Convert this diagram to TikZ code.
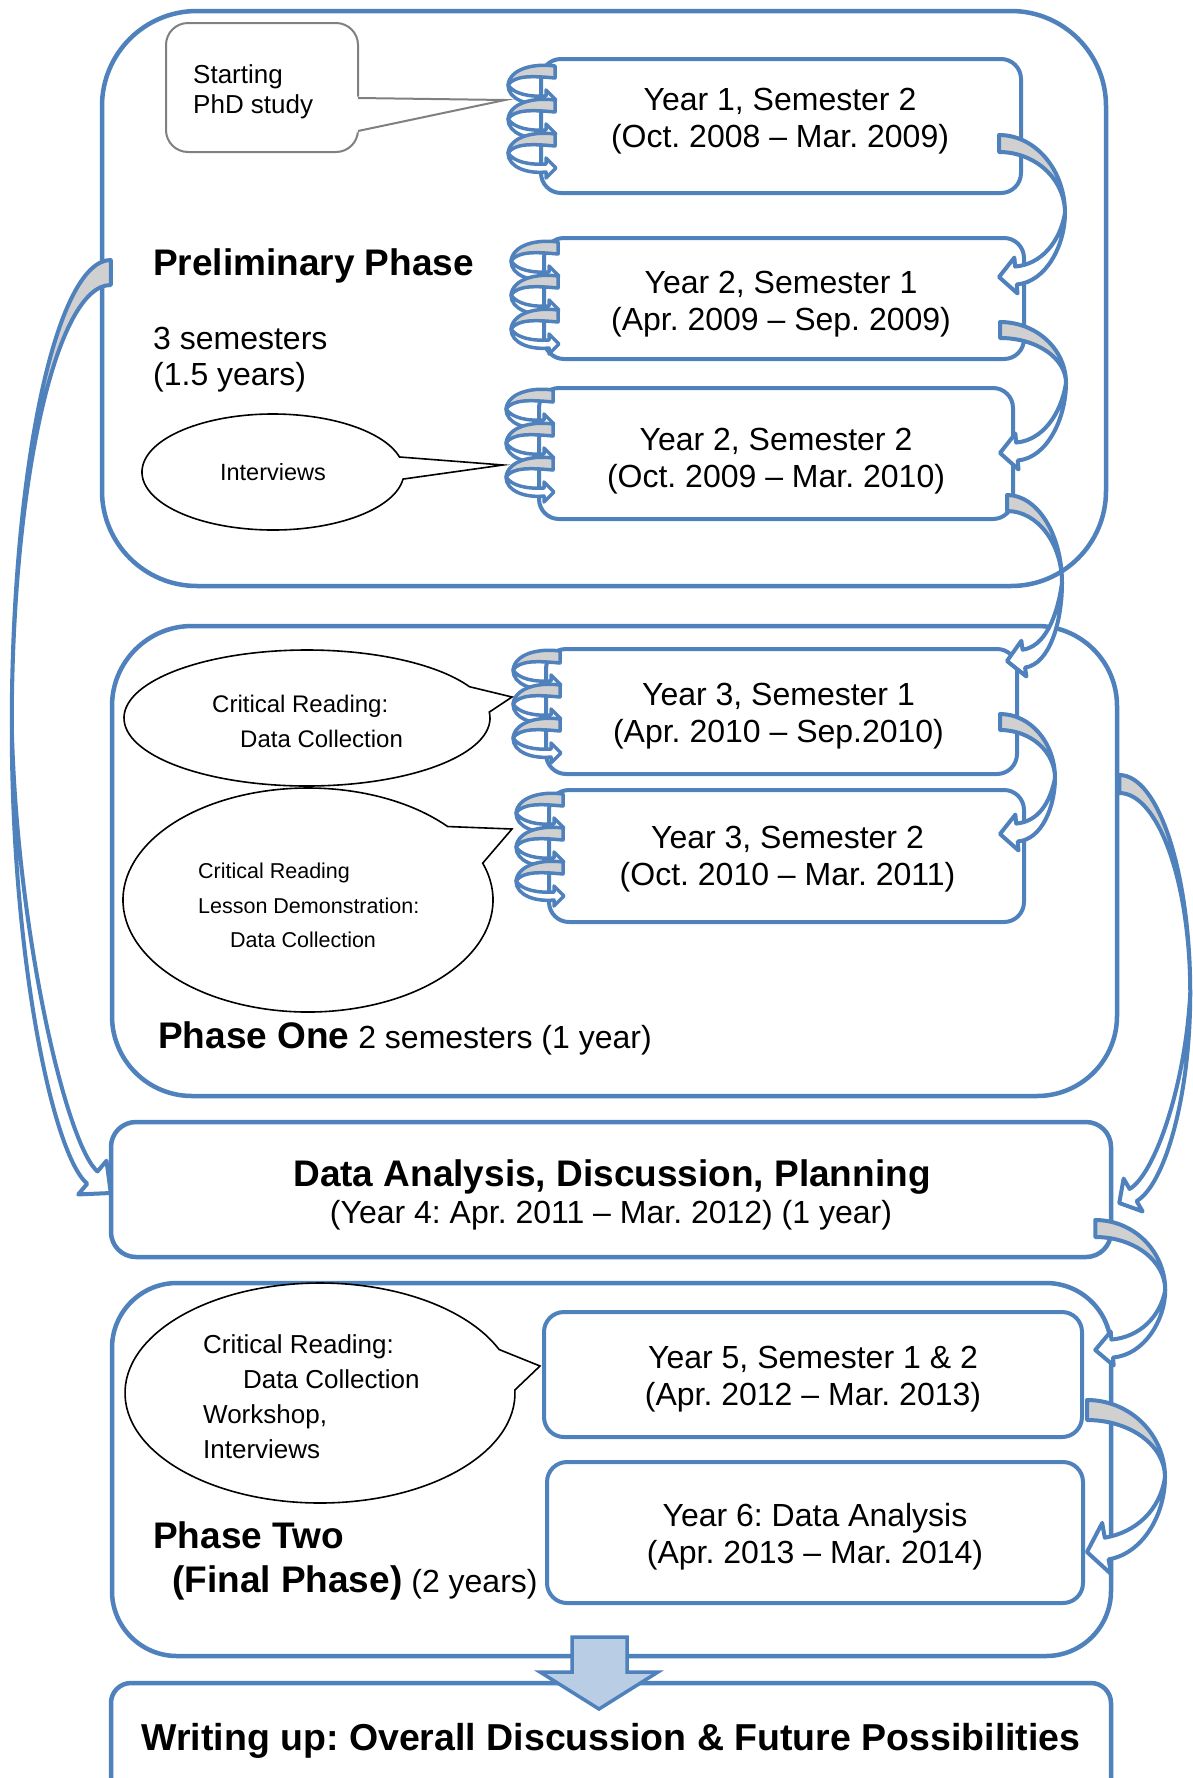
\documentclass[tikz,border=0pt]{standalone}
\usepackage{fontspec}
\setmainfont{Liberation Sans}
\usetikzlibrary{calc}

\definecolor{accent}{HTML}{4F81BD}
\definecolor{bandgray}{HTML}{D0D0D0}
\definecolor{arrowfill}{HTML}{B9CDE5}
\definecolor{calloutgray}{HTML}{808080}

\newcommand\fsz[2]{\fontsize{#1}{#2}\selectfont}

\tikzset{
  phasebox/.style={draw=accent, line width=4.5pt, fill=white, inner sep=0pt},
  yearbox/.style={draw=accent, line width=4pt, fill=white, rounded corners=20pt, inner sep=0pt},
  yeartext/.style={inner sep=0pt, align=center, font=\fsz{32}{37}},
  bandback/.style={draw=accent, fill=bandgray, line width=4pt, line join=round},
  bandfront/.style={draw=accent, fill=white, line width=4pt, line join=round},
  coilback/.style={draw=accent, fill=bandgray, line width=3.5pt, line join=round},
  coilfront/.style={draw=accent, fill=white, line width=3.5pt, line join=round},
  callout/.style={draw=black, fill=white, line width=1.6pt, line join=miter},
  lbl/.style={inner sep=0pt, anchor=base west},
  ctr/.style={inner sep=0pt, anchor=base},
}

% curved block arrow: #1 placement (origin = top of the tail), #2 drop to the tip,
% #3 height of the widest point, #4 bulge, #5 tail thickness, #6 head angle,
% #7 head length, #8 shaft half width, #9 barb half width
\newcommand\bendarrow[9]{%
  \begin{scope}[#1]
    \coordinate (ba-T) at (0,#2);
    \coordinate (ba-P) at (#4,#3);
    \coordinate (ba-So) at ($(ba-T)+(#6:#7)+({#6+90}:#8)$);
    \coordinate (ba-Si) at ($(ba-T)+(#6:#7)+({#6-90}:#8)$);
    \coordinate (ba-Bo) at ($(ba-T)+(#6:#7)+({#6+90}:#9)$);
    \coordinate (ba-Bi) at ($(ba-T)+(#6:#7)+({#6-90}:#9)$);
    \filldraw[bandback] (0,0) .. controls ({0.552*#4},0) and (#4,{0.448*#3}) .. (ba-P)
       .. controls (#4,{#5+0.448*(#3-#5)}) and ({0.552*#4},#5) .. (0,#5) -- cycle;
    \filldraw[bandfront] (ba-P) .. controls (#4,{#3+0.5*(#2-#3)}) and ($(ba-So)+(#6:{0.45*#4})$) .. (ba-So)
       -- (ba-Bo) -- (ba-T) -- (ba-Bi) -- (ba-Si)
       .. controls ($(ba-Si)+(#6:{0.4*#4})$) and ({#4-5},{#3+0.45*(#2-#3)}) .. (ba-P) -- cycle;
  \end{scope}}

% one turn of the spiral binding, #1 = vertical offset
\newcommand\coilturn[1]{%
  \begin{scope}[shift={(0,#1)}]
    \filldraw[coilback] (16,0) .. controls (-6,-3) and (-29,3) .. (-31,19)
       .. controls (-24,9) and (-6,10) .. (16,12) -- cycle;
    \filldraw[coilfront] (-31,19) .. controls (-31,33) and (-12,40) .. (7,38)
       -- (7,44) -- (17,34) -- (7,24) -- (7,30)
       .. controls (-10,31) and (-25,28) .. (-31,19) -- cycle;
  \end{scope}}
% three turns along the left edge of a box
\newcommand\binding[1]{%
  \begin{scope}[shift={#1}]
    \coilturn{0}\coilturn{34}\coilturn{68}
  \end{scope}}

\begin{document}
\frenchspacing
\begin{tikzpicture}[x=1pt, y=-1pt]
\fill[white] (0,0) rectangle (1192,1778);
\useasboundingbox (0,0) rectangle (1192,1778);

% phase frames
\node[phasebox, rounded corners=95pt, minimum width=1004pt, minimum height=575pt] (prelim) at (604,298.5) {};
\node[phasebox, rounded corners=80pt, minimum width=1005pt, minimum height=470pt] (one) at (614.5,861) {};
\node[phasebox, rounded corners=25pt, minimum width=1000pt, minimum height=135pt] (data) at (611,1189.5) {};
\node[phasebox, rounded corners=65pt, minimum width=999pt, minimum height=373pt] (two) at (611.5,1469.5) {};
\node[phasebox, rounded corners=20pt, minimum width=1000pt, minimum height=118pt] (write) at (611,1742) {};

% semester boxes
\node[yearbox, minimum width=480pt, minimum height=134pt] (y1) at (781,126) {};
\node[yearbox, minimum width=480pt, minimum height=121pt] (y2a) at (784,298.5) {};
\node[yearbox, minimum width=474pt, minimum height=131pt] (y2b) at (776,453.5) {};
\node[yearbox, minimum width=471pt, minimum height=125pt] (y3a) at (781.5,711.5) {};
\node[yearbox, minimum width=475pt, minimum height=132pt] (y3b) at (786.5,856) {};
\node[yearbox, minimum width=538pt, minimum height=125pt] (y5) at (813,1374.5) {};
\node[yearbox, minimum width=536pt, minimum height=141pt] (y6) at (815,1532.5) {};

\node[yeartext] (y1t) at ($(y1)+(-1,-5)$) {Year 1, Semester 2\\(Oct. 2008 \textendash{} Mar. 2009)};
\node[yeartext] (y2at) at ($(y2a)+(-3,5.5)$) {Year 2, Semester 1\\(Apr. 2009 \textendash{} Sep. 2009)};
\node[yeartext] (y2bt) at ($(y2b)+(0,8)$) {Year 2, Semester 2\\(Oct. 2009 \textendash{} Mar. 2010)};
\node[yeartext] (y3at) at ($(y3a)+(-3,4.5)$) {Year 3, Semester 1\\(Apr. 2010 \textendash{} Sep.2010)};
\node[yeartext] (y3bt) at ($(y3b)+(1,3.5)$) {Year 3, Semester 2\\(Oct. 2010 \textendash{} Mar. 2011)};
\node[yeartext] (y5t) at ($(y5)+(0,4.5)$) {Year 5, Semester 1 \& 2\\(Apr. 2012 \textendash{} Mar. 2013)};
\node[yeartext] (y6t) at ($(y6)+(0,4.5)$) {Year 6: Data Analysis\\(Apr. 2013 \textendash{} Mar. 2014)};

% spiral bindings
\binding{($(y1.north west)+(0,9)$)}
\binding{($(y2a.north west)+(0,6)$)}
\binding{($(y2b.north west)+(0,4)$)}
\binding{($(y3a.north west)+(0,4)$)}
\binding{($(y3b.north west)+(0,6)$)}

% callouts
\node[draw=calloutgray, line width=2pt, fill=white, rounded corners=22pt,
  minimum width=192pt, minimum height=129pt] (start) at (262,87.5) {};
\fill[white] (356.5,96.5) -- (505,100) -- (356.5,132.5) -- cycle;
\draw[calloutgray, line width=2pt, line join=miter] (358,98) -- (505,100) -- (358,131);
\node[lbl, font=\fsz{26}{30}] (startA) at (193,83) {Starting};
\node[lbl, font=\fsz{26}{30}] (startB) at (193,113) {PhD study};

\draw[callout] ($(273,472)+(7:131 and 58)$) arc[start angle=7, end angle=345, x radius=131, y radius=58]
  -- (503,465) -- cycle;
\node[ctr, font=\fsz{23.5}{28}] (intv) at (273,480) {Interviews};

\draw[callout] ($(307,718)+(-5:183 and 68)$) arc[start angle=-5, end angle=332.6, x radius=183, y radius=68]
  -- (512,697) -- cycle;
\node[lbl, font=\fsz{24}{28}] (crA) at (212,712) {Critical Reading:};
\node[lbl, font=\fsz{24}{28}] (crB) at (240,747) {Data Collection};

\draw[callout] ($(308,900)+(-19.2:185 and 112)$) arc[start angle=-19.2, end angle=319, x radius=185, y radius=112]
  -- (512,829) -- cycle;
\node[lbl, font=\fsz{21.5}{26}] (ldA) at (198,878) {Critical Reading};
\node[lbl, font=\fsz{21.5}{26}] (ldB) at (198,913) {Lesson Demonstration:};
\node[lbl, font=\fsz{21.5}{26}] (ldC) at (230,947) {Data Collection};

\draw[callout] ($(320,1393)+(-1.6:195 and 110)$) arc[start angle=-1.6, end angle=336.7, x radius=195, y radius=110]
  -- (540,1366) -- cycle;
\node[lbl, font=\fsz{26}{30}] (wsA) at (203,1353) {Critical Reading:};
\node[lbl, font=\fsz{26}{30}] (wsB) at (243,1388) {Data Collection};
\node[lbl, font=\fsz{26}{30}] (wsC) at (203,1423) {Workshop,};
\node[lbl, font=\fsz{26}{30}] (wsD) at (203,1458) {Interviews};

% phase labels
\node[lbl, font=\fsz{37}{42}\bfseries] (prelimlbl) at (153,275) {Preliminary Phase};
\node[lbl, font=\fsz{32}{36}] (prelimA) at (153,349) {3 semesters};
\node[lbl, font=\fsz{32}{36}] (prelimB) at (153,385) {(1.5 years)};
\node[lbl, font=\fsz{32}{36}] (onelbl) at (158,1048) {{\fsz{37}{42}\bfseries Phase One} 2 semesters (1 year)};
\node[lbl, font=\fsz{37}{42}\bfseries] (twolbl) at (153,1548) {Phase Two};
\node[lbl, font=\fsz{32}{36}] (twosub) at (172,1592) {{\fsz{37}{42}\bfseries (Final Phase)} (2 years)};
\node[ctr, font=\fsz{37}{42}\bfseries] (datalbl) at (612,1186) {Data Analysis, Discussion, Planning};
\node[ctr, font=\fsz{32}{36}] (datasub) at (611,1223) {(Year 4: Apr. 2011 \textendash{} Mar. 2012) (1 year)};
\node[ctr, font=\fsz{37.5}{42}\bfseries] (writelbl) at (611,1750) {Writing up: Overall Discussion \& Future Possibilities};

% curved arrows between the stages
\bendarrow{shift={($(y1.east)+(-24,9)$)}}{142}{78}{66}{17}{-5}{17}{9}{18}
\bendarrow{shift={($(y2a.east)+(-26,23.5)$)}}{131}{61}{66}{16}{-5}{17}{9}{18}
\bendarrow{shift={($(y2b.east)+(-8,41.5)$)}}{166}{88}{55}{16}{-8}{17}{9}{18}
\bendarrow{shift={($(y3a.east)+(-19,2.5)$)}}{120}{64}{55}{16}{-5}{17}{9}{18}
\bendarrow{shift={($(one.east)+(0,-86)$)}}{428}{218}{71}{18}{-30}{16}{7}{19}
\bendarrow{shift={($(data.east)+(-18,30.5)$)}}{130}{70}{70}{17}{-5}{17}{9}{17}
\bendarrow{shift={($(y5.east)+(3,25.5)$)}}{152}{77}{78}{20}{-10}{20}{11}{26}
\bendarrow{shift={($(prelim.west)+(11,-38.5)$)}, xscale=-1}{933}{466}{99}{25}{-40}{24}{8}{22}

% block arrow into the writing-up stage
\filldraw[draw=accent, fill=arrowfill, line width=3.5pt, line join=miter]
  (572,1637) -- (627,1637) -- (627,1672) -- (658,1672) -- (599,1709)
  -- (540,1672) -- (572,1672) -- cycle;
\end{tikzpicture}
\end{document}
